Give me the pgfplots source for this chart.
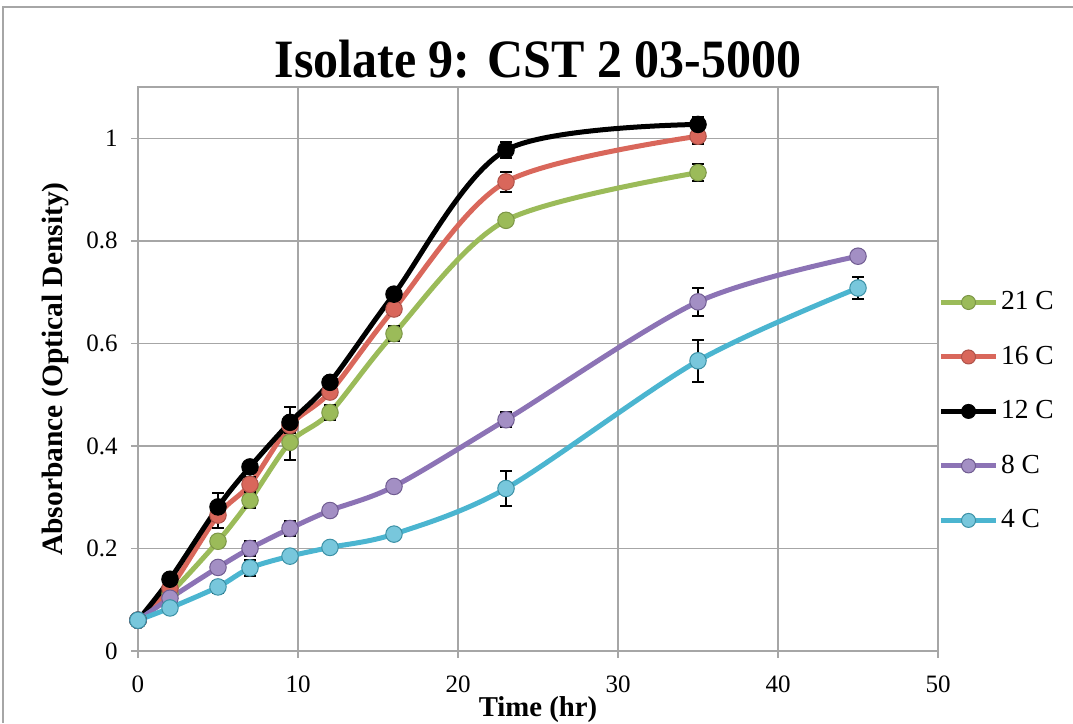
\documentclass[border=0pt]{standalone}
\usepackage{pgfplots}
\pgfplotsset{compat=1.18}
\usepackage{fontspec}
\setmainfont{Liberation Serif}
\definecolor{c21}{HTML}{9BBB59}
\definecolor{c16}{HTML}{D9675B}
\definecolor{c12}{HTML}{000000}
\definecolor{c8}{HTML}{8C73B5}
\definecolor{c4}{HTML}{4BB5D0}
\definecolor{gridc}{HTML}{A6A6A6}

\begin{document}
\begin{tikzpicture}[x=0.4pt,y=0.4pt]
\path[use as bounding box] (-138,-72) rectangle (935,651);
\draw[gridc,line width=0.6pt] (-135,-72) -- (-135,644) -- (935,644);
\begin{axis}[
    at={(0,0)},anchor=origin,
    scale only axis,width=320pt,height=225.6pt,
    xmin=0,xmax=50,ymin=0,ymax=1.1,
    xtick={0,10,...,50},ytick={0,0.2,...,1.0},
    yticklabels={0,0.2,0.4,0.6,0.8,1},
    grid=major,
    major grid style={gridc,line width=0.6pt},
    axis line style={gridc,line width=0.6pt},
    tick style={gridc,line width=0.6pt},
    tick align=outside,major tick length=2.6pt,
    xtick pos=bottom,ytick pos=left,
    /pgf/number format/assume math mode=true,
    tick label style={font=\fontsize{10}{12}\selectfont},
    xticklabel style={yshift=-4pt},
    yticklabel style={xshift=-2pt},
    xlabel={\textbf{Time (hr)}},
    ylabel={\textbf{Absorbance (Optical Density)}},
    xlabel style={font=\fontsize{11.5}{13}\selectfont,yshift=5.5pt},
    ylabel style={font=\fontsize{11.8}{13}\selectfont,yshift=0pt},
    title={\scalebox{1.0}[1.08]{\textbf{Isolate 9: CST 2 03-5000}}},
    title style={font=\fontsize{20}{24}\selectfont,yshift=-6pt},
    legend style={draw=none,fill=none,at={(1.0,0.656)},anchor=north west,
        font=\fontsize{11}{13}\selectfont,row sep=9pt,
        inner xsep=0pt,cells={anchor=west},nodes={inner xsep=1pt}},
    legend image code/.code={
        \draw[#1,mark=none] (0pt,0pt) -- (22pt,0pt);
        \draw[#1,mark size=2.8pt] plot coordinates {(11pt,0pt)};},
    every axis plot/.append style={line width=2pt,smooth,tension=0.5,
        mark=*,mark size=3.3pt},
    error bars/y dir=both,error bars/y explicit,
    error bars/error bar style={black,line width=0.8pt},
    error bars/error mark options={rotate=90,mark size=2.4pt,black,line width=0.8pt},
]
\addplot[c21,mark options={fill=c21,draw=c21!80!black,line width=0.4pt}] coordinates {
 (0,0.060) +- (0,0.005)
 (2,0.112) +- (0,0.008)
 (5,0.214) +- (0,0.010)
 (7,0.294) +- (0,0.015)
 (9.5,0.407) +- (0,0.035)
 (12,0.465) +- (0,0.015)
 (16,0.619) +- (0,0.015)
 (23,0.840) +- (0,0.010)
 (35,0.933) +- (0,0.017)};
\addplot[c16,mark options={fill=c16,draw=c16!80!black,line width=0.4pt}] coordinates {
 (0,0.060) +- (0,0.005)
 (2,0.122) +- (0,0.008)
 (5,0.265) +- (0,0.025)
 (7,0.325) +- (0,0.015)
 (9.5,0.440) +- (0,0.015)
 (12,0.505) +- (0,0.010)
 (16,0.667) +- (0,0.012)
 (23,0.915) +- (0,0.020)
 (35,1.004) +- (0,0.015)};
\addplot[c12,mark options={fill=c12,draw=c12,line width=0.4pt}] coordinates {
 (0,0.060) +- (0,0.008)
 (2,0.140) +- (0,0.006)
 (5,0.281) +- (0,0.028)
 (7,0.359) +- (0,0.008)
 (9.5,0.446) +- (0,0.030)
 (12,0.524) +- (0,0.008)
 (16,0.696) +- (0,0.010)
 (23,0.977) +- (0,0.015)
 (35,1.027) +- (0,0.015)};
\addplot[c8,mark options={fill=c8!80!white,draw=c8!80!black,line width=0.4pt}] coordinates {
 (0,0.060) +- (0,0.005)
 (2,0.103) +- (0,0.008)
 (5,0.163) +- (0,0.010)
 (7,0.200) +- (0,0.015)
 (9.5,0.239) +- (0,0.015)
 (12,0.274) +- (0,0.010)
 (16,0.321) +- (0,0.008)
 (23,0.451) +- (0,0.015)
 (35,0.681) +- (0,0.027)
 (45,0.770) +- (0,0.010)};
\addplot[c4,mark options={fill=c4!75!white,draw=c4!80!black,line width=0.4pt}] coordinates {
 (0,0.060) +- (0,0.005)
 (2,0.084) +- (0,0.008)
 (5,0.125) +- (0,0.012)
 (7,0.162) +- (0,0.015)
 (9.5,0.185) +- (0,0.008)
 (12,0.202) +- (0,0.008)
 (16,0.228) +- (0,0.008)
 (23,0.317) +- (0,0.034)
 (35,0.566) +- (0,0.041)
 (45,0.708) +- (0,0.021)};
\legend{21 C,16 C,12 C,8 C,4 C}
\end{axis}
\end{tikzpicture}
\end{document}
